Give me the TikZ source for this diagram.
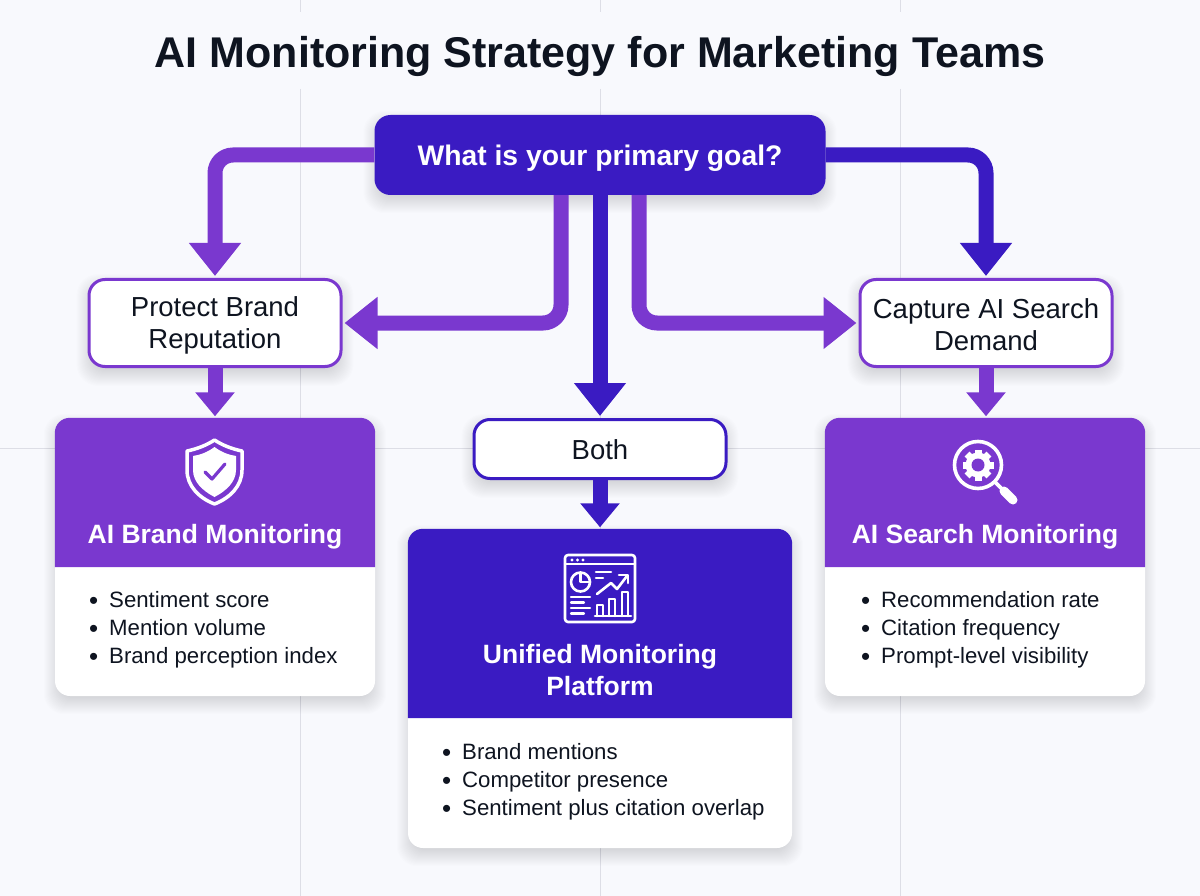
\documentclass[tikz,border=0pt]{standalone}
\usepackage{fontspec}
\usepackage{tikz}
\usetikzlibrary{arrows.meta}
\setmainfont{Liberation Sans}

\definecolor{pagebg}{HTML}{F8F9FD}
\definecolor{gridline}{HTML}{DDDEE6}
\definecolor{inkblack}{HTML}{0E1420}
\definecolor{violet}{HTML}{7A38CF}
\definecolor{indigo}{HTML}{3A1BC2}

\pgfdeclarelayer{pagelayer}
\pgfdeclarelayer{shadowlayer}
\pgfsetlayers{pagelayer,shadowlayer,main}

\tikzset{
	choice/.style={draw, fill=white, line width=3pt, rounded corners=16pt, inner sep=0pt},
	choicetext/.style={align=center, text=inkblack, font=\fontsize{27.5}{32}\selectfont, inner sep=0pt},
	card/.style={fill=white, rounded corners=15pt, inner sep=0pt},
	cardtitle/.style={text=white, align=center, font=\fontsize{26.5}{31.5}\selectfont\bfseries, inner sep=0pt},
	listtext/.style={text=inkblack, align=left, anchor=west, inner sep=0pt, font=\fontsize{22.2}{28}\selectfont},
	bigflow/.style={line width=15pt, rounded corners=18pt, shorten >=2pt, -{Triangle[width=50pt,length=33pt]}},
	smallflow/.style={line width=15pt, shorten >=1.5pt, -{Triangle[width=38pt,length=24pt]}},
	icon/.style={white, line width=3pt, line cap=round, line join=round},
	dashline/.style={icon, line width=2.6pt},
}

% soft shadow under a named box
\newcommand{\softshadow}[2]{
	\begin{pgfonlayer}{shadowlayer}
		\foreach \s in {-6,-5,...,11} {
			\fill[black, opacity=0.009, rounded corners=#2+\s*0.5pt]
				([shift={(-\s,-\s+7)}]#1.north west) rectangle ([shift={(\s,\s+7)}]#1.south east);
		}
	\end{pgfonlayer}
}
% coloured top part of a card
\newcommand{\cardhead}[3]{
	\fill[#3, rounded corners=15pt] (#1.west |- 0,#2) -- (#1.north west) -- (#1.north east)
		[sharp corners] -- (#1.east |- 0,#2) -- cycle;
}
\newcommand{\bul}{\makebox[21pt][l]{\hspace{1pt}\raisebox{-2pt}{\fontsize{26}{28}\selectfont •}}}

\begin{document}
\begin{tikzpicture}[x=1pt, y=-1pt]
	\useasboundingbox (0, 0) rectangle (1200, 896);

	% faint page grid
	\begin{pgfonlayer}{pagelayer}
		\fill[pagebg] (0, 0) rectangle (1200, 896);
		\foreach \gx in {300, 600, 900} {
			\draw[gridline, line width=1pt] (\gx, 0) -- (\gx, 12);
			\draw[gridline, line width=1pt] (\gx, 89) -- (\gx, 896);
		}
		\draw[gridline, line width=1pt] (0, 448) -- (1200, 448);
	\end{pgfonlayer}

	\node[text=inkblack, anchor=base, inner sep=0pt, font=\fontsize{43}{48}\selectfont\bfseries] (title) at (600, 68)
		{AI Monitoring Strategy for Marketing Teams};

	% question and answers
	\node[fill=indigo, rounded corners=16pt, minimum width=451pt, minimum height=80pt, inner sep=0pt, text=white, text depth=0pt,
		font=\fontsize{28.3}{32}\selectfont\bfseries] (goal) at (600, 155) {What is your primary goal?};
	\node[choice, draw=violet, minimum width=252pt, minimum height=87pt] (protect) at (215, 323) {};
	\node[choice, draw=violet, minimum width=252pt, minimum height=87pt] (capture) at (986, 323) {};
	\node[choice, draw=indigo, minimum width=252pt, minimum height=59pt] (both) at (600, 449) {};
	\node[choicetext] (protecttext) at (215, 325) {Protect Brand\\Reputation};
	\node[choicetext] (capturetext) at (986, 325) {Capture AI Search\\Demand};
	\node[choicetext] (bothtext) at (600, 450) {Both};

	% result cards
	\node[card, minimum width=320pt, minimum height=278pt] (brand) at (215, 557) {};
	\node[card, minimum width=320pt, minimum height=278pt] (search) at (985, 557) {};
	\node[card, minimum width=384pt, minimum height=319pt] (unified) at (600, 688.5) {};
	\cardhead{brand}{567}{violet}
	\cardhead{search}{567}{violet}
	\cardhead{unified}{718}{indigo}

	\softshadow{goal}{16pt}
	\softshadow{protect}{16pt}
	\softshadow{capture}{16pt}
	\softshadow{both}{16pt}
	\softshadow{brand}{15pt}
	\softshadow{search}{15pt}
	\softshadow{unified}{15pt}

	\node[cardtitle] (brandtitle) at (215, 537) {AI Brand Monitoring};
	\node[cardtitle] (searchtitle) at (985, 537) {AI Search Monitoring};
	\node[cardtitle] (unifiedtitle) at (600, 670) {Unified Monitoring\\Platform};

	\node[listtext] (brandlist) at (88, 630) {\bul Sentiment score\\\bul Mention volume\\\bul Brand perception index};
	\node[listtext] (searchlist) at (860, 630) {\bul Recommendation rate\\\bul Citation frequency\\\bul Prompt-level visibility};
	\node[listtext] (unifiedlist) at (441, 781.5) {\bul Brand mentions\\\bul Competitor presence\\\bul Sentiment plus citation overlap};

	% connectors
	\draw[bigflow, violet] (goal.west) -| (protect.north);
	\draw[bigflow, indigo] (goal.east) -| (capture.north);
	\draw[bigflow, violet] ([xshift=-39pt]goal.south) |- (protect.east);
	\draw[bigflow, violet] ([xshift=39pt]goal.south) |- (capture.west);
	\draw[bigflow, indigo] (goal.south) -- (both.north);
	\draw[smallflow, violet] (protect.south) -- (protect.south |- brand.north);
	\draw[smallflow, violet] (capture.south) -- (capture.south |- search.north);
	\draw[smallflow, indigo] (both.south) -- (unified.north);

	% shield icon
	\draw[icon, line width=3.5pt] (214.5, 440) .. controls (222, 445) and (232, 449) .. (242, 451) -- (242, 470)
		.. controls (242, 486) and (230, 498) .. (214.5, 504)
		.. controls (199, 498) and (187, 486) .. (187, 470) -- (187, 451)
		.. controls (197, 449) and (207, 445) .. cycle;
	\fill[white] (214.5, 447) .. controls (221, 452) and (229, 455) .. (236, 456) -- (236, 470)
		.. controls (236, 482) and (226, 491) .. (214.5, 497)
		.. controls (203, 491) and (193, 482) .. (193, 470) -- (193, 456)
		.. controls (200, 455) and (208, 452) .. cycle;
	\draw[violet, line width=3.2pt, line cap=round, line join=round] (205, 472) -- (212, 479) -- (225, 464);

	% magnifier icon
	\draw[icon, line width=3.6pt] (978, 465) circle (23.5pt);
	\draw[icon, line width=3.6pt] (995, 482) -- (1003, 490);
	\draw[icon, line width=9pt] (1004, 491) -- (1013, 500);
	\foreach \a in {0, 45, ..., 315} {
		\draw[white, line width=7pt] (978, 465) ++(\a:10) -- ++(\a:5.5);
	}
	\fill[white] (978, 465) circle (12.5pt);
	\fill[violet] (978, 465) circle (6.5pt);

	% dashboard icon
	\draw[dashline, rounded corners=3pt] (565, 555) rectangle (635, 622);
	\draw[dashline] (565, 564) -- (635, 564);
	\foreach \dx in {572, 577.5, 583} {
		\fill[white] (\dx, 560) circle (1.7pt);
	}
	\draw[dashline] (580.5, 582) circle (9.5pt);
	\draw[dashline] (580.5, 572.5) -- (580.5, 582) -- (590, 582);
	\draw[dashline] (596, 572) -- (611, 572) (596, 578) -- (603, 578);
	\draw[dashline] (597, 594) -- (611, 583) -- (617, 589) -- (627, 576);
	\draw[dashline] (619, 575) -- (628, 575) -- (628, 583);
	\draw[dashline, line width=2.2pt] (571, 597) -- (590, 597) (571, 602.5) -- (584, 602.5) (571, 608) -- (590, 608) (571, 613.5) -- (584, 613.5);
	\draw[dashline] (595, 616) -- (631, 616);
	\draw[dashline] (597, 616) -- (597, 605) -- (603, 605) -- (603, 616);
	\draw[dashline] (609, 616) -- (609, 599) -- (615, 599) -- (615, 616);
	\draw[dashline] (622, 616) -- (622, 592) -- (628, 592) -- (628, 616);
\end{tikzpicture}
\end{document}
